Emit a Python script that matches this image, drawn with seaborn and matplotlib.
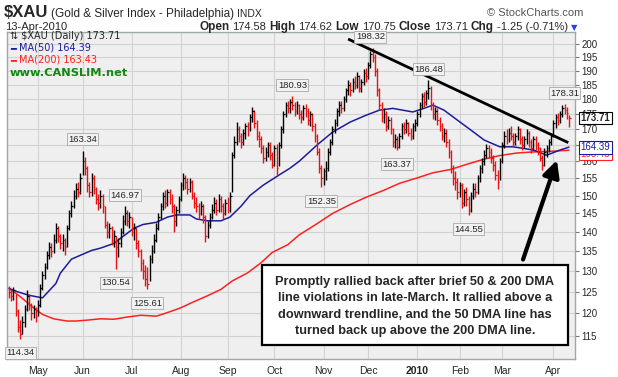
import matplotlib
matplotlib.use("Agg")
import matplotlib.pyplot as plt
import matplotlib.ticker as mticker
from matplotlib.patches import Rectangle
import numpy as np
import pandas as pd
import seaborn as sns

# trading days shown (NYSE holidays removed)
holidays = ["2009-05-25", "2009-07-03", "2009-09-07", "2009-11-26", "2009-12-25",
            "2010-01-01", "2010-01-18", "2010-02-15", "2010-04-02"]
dates = pd.bdate_range("2009-04-14", "2010-04-13", freq="C", holidays=holidays)

# daily closes / highs / lows
closes = [
    125.0, 124.0, 125.5, 120.5, 117.0, 115.5, 118.0, 121.0, 124.0, 122.0,
    120.0, 121.0, 119.5, 122.0, 126.0, 129.0, 131.0, 134.0, 136.0, 135.0,
    138.0, 141.0, 139.0, 137.0, 138.0, 136.0, 141.0, 145.0, 147.0, 150.0,
    152.0, 151.0, 155.0, 160.0, 158.0, 153.0, 151.0, 155.0, 152.0, 149.0,
    148.0, 150.0, 147.0, 142.0, 140.0, 141.0, 138.0, 139.0, 136.0, 137.0,
    140.0, 143.0, 145.0, 143.0, 144.0, 140.0, 141.0, 137.0, 135.0, 132.0,
    130.0, 128.0, 127.0, 133.0, 135.0, 138.0, 141.0, 144.0, 147.0, 150.0,
    148.0, 151.0, 149.0, 147.0, 143.0, 146.0, 149.0, 153.0, 155.0, 154.0,
    152.0, 154.0, 150.0, 148.0, 147.0, 145.0, 147.0, 144.0, 139.0, 142.0,
    144.0, 146.0, 148.0, 146.0, 149.0, 147.0, 145.0, 148.0, 146.0, 150.0,
    162.0, 166.0, 170.0, 168.0, 166.0, 169.0, 171.0, 170.0, 174.0, 176.0,
    172.0, 168.0, 167.0, 164.0, 161.0, 163.0, 165.0, 162.0, 159.0, 164.0,
    158.0, 165.0, 170.0, 175.0, 178.0, 177.0, 179.0, 178.0, 176.0, 178.0,
    175.0, 174.0, 177.0, 176.0, 173.0, 175.0, 171.0, 168.0, 163.0, 158.0,
    155.0, 157.0, 158.0, 163.0, 166.0, 170.0, 172.0, 176.0, 178.0, 177.0,
    180.0, 183.0, 185.0, 183.0, 186.0, 185.0, 188.0, 184.0, 186.0, 189.0,
    188.0, 192.0, 196.0, 195.0, 190.0, 183.0, 178.0, 174.0, 175.0, 171.0,
    173.0, 170.0, 166.0, 167.0, 164.5, 168.0, 171.0, 170.0, 172.0, 169.0,
    168.0, 171.0, 172.0, 175.0, 178.0, 181.0, 179.0, 182.0, 184.0, 178.0,
    175.0, 176.0, 173.0, 171.0, 168.0, 169.0, 166.0, 163.0, 158.0, 155.0,
    154.0, 151.0, 153.0, 148.0, 151.0, 149.0, 146.0, 150.0, 152.0, 151.0,
    155.0, 158.0, 160.0, 162.0, 164.0, 163.0, 161.0, 159.0, 156.0, 154.0,
    160.0, 165.0, 168.0, 167.0, 169.0, 168.0, 166.0, 168.0, 170.0, 167.0,
    165.0, 167.0, 169.0, 166.0, 164.0, 167.0, 165.0, 164.0, 161.0, 159.0,
    163.0, 164.0, 166.0, 168.0, 172.0, 174.0, 173.0, 175.0, 177.0, 176.5,
    175.5, 173.71,
]
highs = [
    126.5, 125.8, 126.2, 124.5, 121.0, 118.5, 119.5, 122.0, 125.5, 124.5,
    122.5, 122.0, 121.5, 123.0, 127.0, 130.0, 132.0, 135.0, 137.5, 137.0,
    139.5, 142.5, 141.5, 139.5, 139.5, 138.5, 142.0, 146.0, 148.5, 151.5,
    153.5, 154.0, 156.5, 163.34, 161.5, 158.5, 154.0, 156.5, 156.0, 152.5,
    150.5, 151.5, 150.5, 147.0, 143.0, 142.5, 141.5, 140.5, 139.0, 138.5,
    141.0, 144.5, 146.97, 146.0, 145.5, 144.0, 142.5, 141.0, 138.0, 135.5,
    133.0, 131.5, 131.0, 134.0, 136.5, 139.5, 142.5, 145.0, 148.0, 151.0,
    151.5, 152.0, 152.0, 150.5, 147.5, 147.0, 150.0, 154.0, 156.6, 156.0,
    155.0, 155.0, 154.5, 151.0, 149.5, 148.0, 148.5, 147.5, 144.5, 143.0,
    145.0, 147.5, 149.5, 149.0, 150.5, 150.0, 148.0, 149.0, 149.5, 151.0,
    163.0, 168.0, 172.5, 171.0, 169.0, 170.0, 172.0, 172.5, 175.0, 177.5,
    176.5, 173.0, 169.5, 168.0, 165.0, 164.5, 166.0, 166.0, 163.0, 165.0,
    165.5, 166.0, 171.0, 176.0, 179.0, 179.5, 180.0, 180.93, 179.0, 179.5,
    178.5, 176.5, 178.0, 178.5, 177.0, 176.0, 175.5, 172.0, 168.5, 164.0,
    159.0, 158.0, 160.0, 164.0, 167.0, 171.0, 173.5, 177.0, 179.5, 179.5,
    181.0, 184.0, 186.5, 186.0, 187.5, 188.0, 189.5, 188.5, 187.0, 190.5,
    191.0, 193.0, 197.0, 198.32, 196.0, 191.0, 184.0, 179.0, 177.0, 176.0,
    174.5, 174.0, 170.5, 168.5, 168.0, 169.0, 172.0, 172.5, 173.5, 172.5,
    170.5, 172.0, 173.5, 176.0, 179.0, 182.0, 182.5, 183.0, 186.48, 184.5,
    179.0, 177.5, 177.0, 174.0, 172.0, 170.5, 170.0, 167.0, 163.5, 159.0,
    157.0, 155.0, 154.0, 153.5, 152.0, 152.5, 150.0, 151.0, 153.5, 153.5,
    156.0, 159.0, 161.0, 163.5, 165.5, 165.0, 164.0, 162.0, 160.0, 157.5,
    161.0, 166.0, 169.5, 170.0, 170.5, 171.0, 169.0, 169.0, 171.0, 170.5,
    168.0, 168.0, 170.0, 169.5, 167.0, 168.0, 168.0, 166.0, 164.5, 162.0,
    164.0, 165.0, 167.0, 169.0, 173.0, 175.0, 175.5, 176.0, 178.0, 178.31,
    177.5, 174.62,
]
lows = [
    123.5, 122.8, 123.0, 119.5, 115.8, 114.34, 115.5, 117.0, 120.5, 120.8,
    118.5, 119.0, 118.0, 119.5, 121.5, 125.5, 128.0, 130.5, 133.0, 133.5,
    134.5, 137.0, 137.5, 135.5, 135.0, 134.0, 136.0, 140.5, 144.0, 146.5,
    149.0, 149.5, 150.5, 156.0, 156.0, 151.0, 149.5, 150.0, 150.5, 147.5,
    146.0, 146.5, 145.0, 141.0, 138.5, 138.5, 136.5, 136.0, 130.54, 133.5,
    136.0, 139.5, 142.0, 141.5, 141.0, 139.0, 138.0, 135.5, 133.5, 130.0,
    128.0, 126.5, 125.61, 127.5, 132.0, 134.5, 137.5, 140.5, 143.5, 146.0,
    146.5, 147.0, 147.5, 145.0, 140.0, 141.5, 145.0, 148.5, 151.5, 152.0,
    150.5, 151.0, 149.0, 146.5, 145.5, 143.5, 144.5, 142.5, 137.5, 138.5,
    141.0, 143.5, 145.0, 144.5, 145.5, 145.5, 143.5, 144.5, 145.0, 145.5,
    151.0, 161.0, 165.0, 166.0, 164.0, 165.0, 167.0, 168.0, 169.5, 172.5,
    170.5, 166.5, 164.5, 162.5, 159.5, 160.0, 161.5, 160.5, 158.0, 158.5,
    156.0, 158.5, 164.0, 169.0, 174.0, 175.5, 175.5, 176.5, 174.5, 175.0,
    173.5, 172.0, 173.0, 174.0, 171.5, 171.0, 169.5, 166.0, 162.0, 156.5,
    152.35, 153.0, 154.5, 157.0, 162.0, 165.0, 169.0, 171.0, 174.5, 175.5,
    176.0, 179.0, 181.5, 181.0, 182.5, 183.5, 184.0, 182.5, 182.5, 185.0,
    186.0, 187.0, 191.0, 193.0, 188.0, 181.0, 176.5, 172.5, 172.0, 169.5,
    170.0, 168.5, 164.5, 164.0, 163.37, 164.0, 167.0, 168.5, 169.0, 168.0,
    166.5, 167.0, 169.5, 171.0, 174.0, 177.0, 177.5, 178.0, 180.0, 176.5,
    173.5, 173.0, 171.5, 169.5, 166.5, 166.0, 164.5, 161.0, 156.5, 153.0,
    151.5, 149.0, 149.5, 146.5, 147.0, 147.0, 144.55, 145.5, 149.0, 149.5,
    150.5, 154.0, 156.5, 159.0, 161.0, 161.0, 159.5, 157.0, 154.5, 152.0,
    154.5, 159.5, 164.0, 165.5, 166.0, 166.5, 164.5, 165.0, 166.5, 165.5,
    163.5, 164.0, 165.5, 164.5, 162.5, 163.5, 163.5, 162.0, 160.0, 157.5,
    158.5, 161.5, 163.0, 165.0, 167.5, 170.5, 171.5, 172.0, 174.0, 175.0,
    173.5, 170.75,
]

# moving averages (bar index, value)
ma50_idx = [0, 4, 9, 15, 21, 23, 28, 37, 41, 47, 51, 56, 60, 66, 71, 75, 81, 84,
            89, 95, 99, 104, 108, 114, 120, 126, 130, 138, 145, 153, 160, 166,
            172, 181, 186, 190, 195, 201, 207, 213, 220, 226, 235, 241, 247, 251]
ma50_val = [125.8, 125.0, 124.2, 123.6, 127.0, 129.5, 133.0, 135.2, 135.8, 137.0,
            138.8, 141.0, 142.0, 142.6, 144.0, 144.6, 144.6, 143.5, 143.0, 143.0,
            144.0, 147.0, 150.0, 153.0, 155.5, 158.0, 160.0, 165.0, 169.1, 172.4,
            174.6, 176.3, 176.9, 175.7, 176.9, 178.0, 176.3, 173.0, 169.8, 166.6,
            164.5, 164.5, 163.5, 161.9, 163.5, 164.39]
ma200_idx = [0, 5, 11, 15, 20, 26, 30, 35, 41, 47, 53, 59, 66, 71, 77, 82, 89, 95,
             100, 107, 113, 118, 125, 130, 138, 145, 153, 160, 168, 175, 183, 190,
             198, 205, 213, 220, 228, 235, 243, 251]
ma200_val = [125.9, 123.9, 121.3, 119.8, 118.8, 118.3, 118.3, 118.5, 118.8, 118.7,
             119.2, 119.6, 119.4, 120.2, 121.3, 122.5, 124.1, 125.6, 127.6, 129.6,
             132.1, 134.7, 136.7, 139.2, 142.2, 145.0, 147.5, 149.5, 151.5, 153.5,
             155.1, 156.6, 157.6, 159.1, 160.7, 161.8, 162.6, 162.9, 163.1, 163.43]

# labelled highs and lows
peak_idx = [33, 52, 127, 162, 188, 249]
peak_val = [163.34, 146.97, 180.93, 198.32, 186.48, 178.31]
trough_idx = [5, 48, 62, 140, 174, 206]
trough_val = [114.34, 130.54, 125.61, 152.35, 163.37, 144.55]

# hand-drawn trendline and arrow (bar index, price)
trend_idx = [152, 250.7]
trend_val = [201.7, 165.8]
arrow_from = (230.4, 132.9)
arrow_to = (245.6, 160.4)

note_lines = [
    "Promptly rallied back after brief 50 & 200 DMA",
    "line violations in late-March. It rallied above a",
    "downward trendline, and the 50 DMA line has",
    "turned back up above the 200 DMA line.",
]

sns.set_style("white")
plt.rcParams["font.family"] = ["Liberation Sans", "DejaVu Sans"]

W, H = 618, 377
fig = plt.figure(figsize=(W / 100, H / 100), dpi=100)
ax = fig.add_axes([7 / W, 1 - 359 / H, 568 / W, 327 / H])
ax.set_facecolor("#efefef")


def fxy(x, y):
    return x / W, 1 - y / H


n = len(closes)
idx = np.arange(n)
c = np.array(closes)
prev = np.r_[c[0] + 1, c[:-1]]
cols = np.where(c >= prev, "black", "#ee1111")

ax.set_yscale("log")
ax.set_xlim(-0.9, 253.7)
ax.set_ylim(110.1, 204.4)

# grid
months = pd.Series(idx, index=dates).groupby([dates.year, dates.month]).first()
month_pos = [int(v) for v in months.values[1:]]
month_lab = [d.strftime("%b") for d in dates[month_pos]]
month_lab = ["2010" if m == "Jan" else m for m in month_lab]
yt = list(range(115, 201, 5))
for p in month_pos:
    ax.axvline(p, color="#d2d2d2", lw=0.8, zorder=0)
for v in yt:
    ax.axhline(v, color="#d2d2d2", lw=0.8, zorder=0)

# MA lines
sns.lineplot(x=ma200_idx, y=ma200_val, ax=ax, color="#ff2020", lw=1.1, zorder=2)
sns.lineplot(x=ma50_idx, y=ma50_val, ax=ax, color="#1c1c9a", lw=1.1, zorder=2)

# HLC bars
ax.vlines(idx, lows, highs, colors=cols, lw=1.0, zorder=3)
ax.hlines(closes, idx, idx + 0.75, colors=cols, lw=0.9, zorder=3)

# trendline + arrow
ax.plot(trend_idx, trend_val, color="black", lw=2.0, zorder=4, solid_capstyle="butt")
ax.annotate("", xy=arrow_to, xytext=arrow_from, zorder=6,
            arrowprops=dict(arrowstyle="-|>,head_length=1.0,head_width=0.5",
                            color="black", lw=3.0, shrinkA=0, shrinkB=0))

lbl_box = dict(boxstyle="square,pad=0.15", fc="#f2f2f2", ec="#a8a8a8", lw=0.6)
for i, v in zip(peak_idx, peak_val):
    ax.annotate(f"{v:.2f}", (i, v), xytext=(0, 8), textcoords="offset points",
                ha="center", va="center", fontsize=6.8, bbox=lbl_box,
                annotation_clip=False, zorder=5)
for i, v in zip(trough_idx, trough_val):
    ax.annotate(f"{v:.2f}", (i, v), xytext=(0, -10), textcoords="offset points",
                ha="center", va="center", fontsize=6.8, bbox=lbl_box,
                annotation_clip=False, zorder=5)

# note box
ax.add_patch(Rectangle((0.449, 0.043), 0.539, 0.245, transform=ax.transAxes,
                       fc="white", ec="black", lw=1.6, zorder=5))
for k, line in enumerate(note_lines):
    ax.text(0.718, 0.237 - k * 0.0505, line, transform=ax.transAxes, ha="center",
            va="center", fontsize=9.2, weight="bold", zorder=6)

# axes cosmetics
ax.yaxis.tick_right()
ax.set_yticks(yt)
ax.yaxis.set_major_formatter(mticker.FuncFormatter(lambda v, p: f"{v:.0f}"))
ax.yaxis.set_minor_locator(mticker.NullLocator())
ax.set_xticks(month_pos)
ax.set_xticklabels(month_lab)
for t in ax.get_xticklabels():
    if t.get_text() == "2010":
        t.set_fontweight("bold")
ax.tick_params(axis="y", length=3, pad=1.5, labelsize=7, color="#777777")
ax.tick_params(axis="x", length=2, pad=3, labelsize=7.5, color="#777777")
for s in ax.spines.values():
    s.set_color("#9aaba4")
    s.set_linewidth(1.0)
ax.set_xlabel("")
ax.set_ylabel("")

# right-edge value tags
tag = dict(xycoords=("axes fraction", "data"), textcoords="offset points",
           va="center", fontsize=7, annotation_clip=False)
ax.annotate("163.43", (1.0, 163.43), xytext=(4, -2.5), color="#ff2020",
            bbox=dict(boxstyle="square,pad=0.15", fc="white", ec="#ff2020", lw=0.8), **tag)
ax.annotate("164.39", (1.0, 164.39), xytext=(4, 0), color="#1c1c9a",
            bbox=dict(boxstyle="square,pad=0.15", fc="white", ec="#1c1c9a", lw=0.8), **tag)
ax.annotate("173.71", (1.0, 173.71), xytext=(4, 0), weight="bold",
            bbox=dict(boxstyle="square,pad=0.15", fc="white", ec="black", lw=0.8), **tag)

# legend block inside the plot
fig.text(*fxy(10, 39), "\u21c5 $XAU (Daily) 173.71", fontsize=7, family="DejaVu Sans")
fig.text(*fxy(10, 51), "\u2501", fontsize=7, color="#1c1c9a", family="DejaVu Sans")
fig.text(*fxy(19, 51), "MA(50) 164.39", fontsize=7, color="#1c1c9a", family="DejaVu Sans")
fig.text(*fxy(10, 63), "\u2501", fontsize=7, color="#ff2020", family="DejaVu Sans")
fig.text(*fxy(19, 63), "MA(200) 163.43", fontsize=7, color="#ff2020", family="DejaVu Sans")
fig.text(*fxy(10, 76), "www.CANSLIM.net", fontsize=8.2, weight="bold",
         color="#118811", family="DejaVu Sans")

# header
renderer = fig.canvas.get_renderer()


def run_text(x, y, parts, gap=3):
    for s, kw in parts:
        t = fig.text(*fxy(x, y), s, va="baseline", **kw)
        x += t.get_window_extent(renderer).width + gap
    return x


run_text(4, 17, [("$XAU", dict(fontsize=12, weight="bold")),
                 ("(Gold & Silver Index - Philadelphia)", dict(fontsize=8.5)),
                 ("INDX", dict(fontsize=7.5))])
fig.text(*fxy(583, 16), "\u00a9 StockCharts.com", fontsize=8, color="#555555",
         ha="right", va="baseline")
fig.text(*fxy(5, 30), "13-Apr-2010", fontsize=8, va="baseline")
end = run_text(199, 30, [("Open", dict(fontsize=8.5, weight="bold")), ("174.58", dict(fontsize=8)),
                         ("High", dict(fontsize=8.5, weight="bold")), ("174.62", dict(fontsize=8)),
                         ("Low", dict(fontsize=8.5, weight="bold")), ("170.75", dict(fontsize=8)),
                         ("Close", dict(fontsize=8.5, weight="bold")), ("173.71", dict(fontsize=8)),
                         ("Chg", dict(fontsize=8.5, weight="bold")), ("-1.25 (-0.71%)", dict(fontsize=8))])
fig.text(*fxy(end, 30), "\u25bc", fontsize=6, color="#2244dd", va="baseline", family="DejaVu Sans")

fig.savefig("out.png", dpi=100)
